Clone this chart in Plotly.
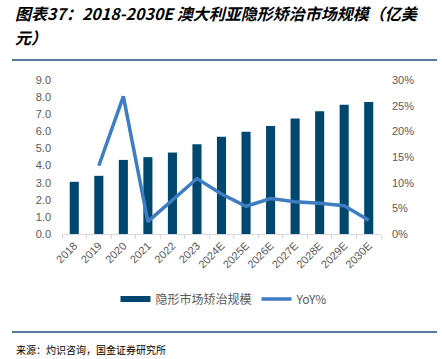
import plotly.graph_objects as go

categories = ["2018", "2019", "2020", "2021", "2022", "2023", "2024E", "2025E",
              "2026E", "2027E", "2028E", "2029E", "2030E"]
market_size = [3.05, 3.40, 4.33, 4.49, 4.76, 5.25, 5.69, 5.98, 6.31, 6.75, 7.18, 7.55, 7.72]
yoy = [None, 13.3, 26.8, 2.4, 6.6, 10.8, 7.8, 5.4, 6.9, 6.3, 6.0, 5.5, 2.7]

left_ticks = [0, 1, 2, 3, 4, 5, 6, 7, 8, 9]
right_ticks = [0, 5, 10, 15, 20, 25, 30]

BAR = "#00476f"
LINE = "#3d7dc1"
W, H = 442, 359
L, R, T, B = 62, 61, 80, 125
pw, ph = W - L - R, H - T - B

def px(x):
    return (x - L) / pw

def py(y):
    return (H - B - y) / ph

fig = go.Figure()
fig.add_trace(go.Bar(x=categories, y=market_size, name="隐形市场矫治规模", showlegend=False,
                     marker=dict(color=BAR, line=dict(width=0)), width=0.37, yaxis="y"))
# legend entry with a wide swatch like the reference
fig.add_trace(go.Scatter(x=[None], y=[None], name="隐形市场矫治规模", mode="lines",
                         line=dict(color=BAR, width=6), yaxis="y"))
fig.add_trace(go.Scatter(x=categories, y=yoy, name="YoY%", mode="lines",
                         line=dict(color=LINE, width=3.5), yaxis="y2", connectgaps=False))

tickfont = dict(family="Liberation Sans, Arial, sans-serif", size=11, color="#595959")
title_font = dict(family="Noto Sans CJK SC, sans-serif", size=16, color="#000000")
fig.update_layout(
    width=W, height=H,
    margin=dict(l=L, r=R, t=T, b=B, autoexpand=False),
    plot_bgcolor="white", paper_bgcolor="white",
    showlegend=True,
    legend=dict(orientation="h", x=px(224), xanchor="center", y=py(299), yanchor="middle",
                font=dict(family="Noto Sans CJK SC, sans-serif", size=12, color="#595959"),
                itemwidth=30, tracegroupgap=0, bgcolor="rgba(0,0,0,0)"),
    xaxis=dict(type="category", tickangle=-45, tickfont=tickfont, showgrid=False,
               showline=True, linecolor="#d9d9d9", linewidth=1, automargin=False,
               ticks="outside", ticklen=4, tickcolor="#d9d9d9", tickson="boundaries"),
    yaxis=dict(range=[0, 9], tickvals=left_ticks, ticktext=[f"{v:.1f}" for v in left_ticks],
               tickfont=tickfont, showgrid=False, zeroline=False, ticks="", ticklabelstandoff=10,
               automargin=False),
    yaxis2=dict(range=[0, 30], overlaying="y", side="right", tickvals=right_ticks,
                ticktext=[f"{v}%" for v in right_ticks], tickfont=tickfont,
                showgrid=False, zeroline=False, ticks="", ticklabelstandoff=10, automargin=False),
    annotations=[
        dict(text="<b><i>图表37：2018-2030E 澳大利亚隐形矫治市场规模（亿美</i></b>",
             xref="paper", yref="paper", x=px(13), y=py(13), xanchor="left", yanchor="middle",
             showarrow=False, font=title_font),
        dict(text="<b><i>元）</i></b>",
             xref="paper", yref="paper", x=px(13), y=py(37), xanchor="left", yanchor="middle",
             showarrow=False, font=title_font),
        dict(text="来源：灼识咨询，国金证券研究所", xref="paper", yref="paper",
             x=px(14), y=py(349), xanchor="left", yanchor="middle", showarrow=False,
             font=dict(family="Noto Sans CJK SC, sans-serif", size=10, color="#000000")),
    ],
    shapes=[
        dict(type="line", xref="paper", yref="paper", x0=px(12), x1=px(437), y0=py(60), y1=py(60),
             line=dict(color="#1f4e79", width=1.5)),
        dict(type="line", xref="paper", yref="paper", x0=px(12), x1=px(437), y0=py(332), y1=py(332),
             line=dict(color="#1f4e79", width=1.5)),
    ],
)

fig.write_html("out.html", config={"displayModeBar": False},
               post_script="document.body.style.margin='0';document.body.style.overflow='hidden';")
